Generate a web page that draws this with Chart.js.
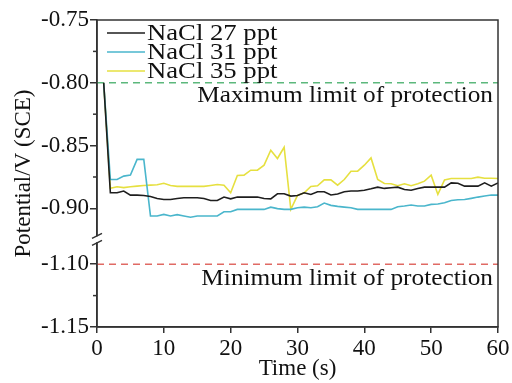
<!DOCTYPE html>
<html>
<head>
<meta charset="utf-8">
<script src="https://cdn.jsdelivr.net/npm/chart.js@4"></script>
<style>
  html, body { margin: 0; padding: 0; background: #fff; }
  #wrap { width: 512px; height: 383px; }
</style>
</head>
<body>
<div id="wrap"><canvas id="potChart"></canvas></div>
<script>
const FONT = "'Liberation Serif', 'Times New Roman', serif";

// time (s)
const times = [1, 2, 3, 4, 5, 6, 7, 8, 9, 10, 11, 12, 13, 14, 15, 16, 17, 18, 19, 20,
    21, 22, 23, 24, 25, 26, 27, 28, 29, 30, 31, 32, 33, 34, 35, 36, 37, 38, 39, 40,
    41, 42, 43, 44, 45, 46, 47, 48, 49, 50, 51, 52, 53, 54, 55, 56, 57, 58, 59, 60];

// potential (V vs SCE)
const nacl27 = [-0.800, -0.8876, -0.8876, -0.8862, -0.8894, -0.8894, -0.8897, -0.8905, -0.8921, -0.8929,
    -0.8929, -0.8921, -0.8915, -0.8915, -0.8915, -0.8921, -0.8937, -0.8937, -0.8910, -0.8924,
    -0.8910, -0.8910, -0.8910, -0.8910, -0.8921, -0.8924, -0.8884, -0.8884, -0.8902, -0.8897,
    -0.8876, -0.8889, -0.8868, -0.8868, -0.8893, -0.8886, -0.8868, -0.8862, -0.8862, -0.8855,
    -0.8844, -0.8831, -0.8841, -0.8836, -0.8831, -0.8849, -0.8855, -0.8841, -0.8831, -0.8831,
    -0.8831, -0.8831, -0.8797, -0.8800, -0.8823, -0.8823, -0.8823, -0.8797, -0.8823, -0.8797];
const nacl31 = [-0.800, -0.8770, -0.8770, -0.8743, -0.8735, -0.8610, -0.8610, -0.9060, -0.9060, -0.9048,
    -0.9060, -0.9050, -0.9060, -0.9070, -0.9060, -0.9060, -0.9060, -0.9060, -0.9027, -0.9027,
    -0.9008, -0.9008, -0.9008, -0.9008, -0.9008, -0.8990, -0.9002, -0.9008, -0.9008, -0.8995,
    -0.8990, -0.8995, -0.8987, -0.8958, -0.8976, -0.8984, -0.8990, -0.8995, -0.9008, -0.9008,
    -0.9008, -0.9008, -0.9008, -0.9008, -0.8987, -0.8981, -0.8973, -0.8981, -0.8981, -0.8968,
    -0.8965, -0.8955, -0.8937, -0.8931, -0.8929, -0.8920, -0.8910, -0.8902, -0.8894, -0.8894];
const nacl35 = [-0.800, -0.8840, -0.8828, -0.8835, -0.8828, -0.8823, -0.8818, -0.8815, -0.8812, -0.8800,
    -0.8818, -0.8825, -0.8825, -0.8825, -0.8825, -0.8825, -0.8818, -0.8810, -0.8815, -0.8876,
    -0.8738, -0.8735, -0.8696, -0.8696, -0.8656, -0.8537, -0.8603, -0.8513, -0.9008, -0.8897,
    -0.8876, -0.8825, -0.8820, -0.8773, -0.8773, -0.8815, -0.8770, -0.8704, -0.8704, -0.8656,
    -0.8598, -0.8770, -0.8802, -0.8804, -0.8820, -0.8804, -0.8820, -0.8804, -0.8783, -0.8736,
    -0.8889, -0.8773, -0.8762, -0.8762, -0.8762, -0.8762, -0.8751, -0.8760, -0.8760, -0.8762];

const seriesNames = ['NaCl 27 ppt', 'NaCl 31 ppt', 'NaCl 35 ppt'];
const seriesColors = ['#1e1e1e', '#4ab6cc', '#e6e040'];

// protection limits
const maxLimit = -0.80;
const minLimit = -1.10;
const limitLabels = ['Maximum limit of protection', 'Minimum limit of protection'];

// y axis ticks (broken axis between -0.90 and -1.10)
const yTicks = [-0.75, -0.80, -0.85, -0.90, -1.10, -1.15];
const yMinor = [-0.775, -0.825, -0.875, -1.125];
const xTicks = [0, 10, 20, 30, 40, 50, 60];

// squeeze the gap -0.90 .. -1.10 out of the axis
const BREAK_AT = -1.0;
const BREAK_SHIFT = 0.15556;
const brk = v => (v < BREAK_AT ? v + BREAK_SHIFT : v);

const pts = arr => arr.map((v, i) => ({ x: times[i], y: brk(v) }));

// text is a bit wider than plain Times in the original figure
function wideText(ctx, txt, x, y, sx) {
    ctx.save();
    ctx.translate(x, y);
    ctx.scale(sx, 1);
    ctx.fillText(txt, 0, 0);
    ctx.restore();
}

const chartDecor = {
    id: 'chartDecor',
    afterDatasetsDraw(chart) {
        const { ctx, chartArea: a, scales } = chart;
        const ys = scales.y;
        ctx.save();
        // frame
        ctx.strokeStyle = '#333';
        ctx.lineWidth = 1.5;
        ctx.strokeRect(a.left, a.top, a.right - a.left, a.bottom - a.top);

        // minor ticks
        yMinor.forEach(v => {
            const py = ys.getPixelForValue(brk(v));
            ctx.beginPath();
            ctx.moveTo(a.left - 4, py);
            ctx.lineTo(a.left, py);
            ctx.stroke();
        });

        // axis break
        const yb = (ys.getPixelForValue(-0.90) + ys.getPixelForValue(brk(-1.10))) / 2 + 3;
        ctx.fillStyle = '#fff';
        ctx.fillRect(a.left - 3, yb - 3, 6, 6);
        ctx.beginPath();
        ctx.moveTo(a.left - 5, yb - 1);
        ctx.lineTo(a.left + 5, yb - 6);
        ctx.moveTo(a.left - 5, yb + 6);
        ctx.lineTo(a.left + 5, yb + 1);
        ctx.stroke();

        // limit labels
        ctx.fillStyle = '#111';
        ctx.font = '23px ' + FONT;
        ctx.textAlign = 'right';
        ctx.textBaseline = 'alphabetic';
        wideText(ctx, limitLabels[0], a.right - 5, ys.getPixelForValue(brk(maxLimit)) + 19, 1.1);
        wideText(ctx, limitLabels[1], a.right - 5, ys.getPixelForValue(brk(minLimit)) + 21, 1.1);

        // legend
        ctx.textAlign = 'left';
        ctx.textBaseline = 'middle';
        ctx.font = '23px ' + FONT;
        seriesNames.forEach((name, i) => {
            const ly = a.top + 13 + i * 19;
            ctx.strokeStyle = seriesColors[i];
            ctx.lineWidth = 1.5;
            ctx.beginPath();
            ctx.moveTo(a.left + 10, ly);
            ctx.lineTo(a.left + 48, ly);
            ctx.stroke();
            ctx.fillStyle = '#111';
            wideText(ctx, name, a.left + 50, ly + 1, 1.16);
        });
        ctx.restore();
    }
};

new Chart(document.getElementById('potChart').getContext('2d'), {
    type: 'line',
    data: {
        datasets: [
            { label: seriesNames[0], data: pts(nacl27), borderColor: seriesColors[0], borderWidth: 1.6, pointRadius: 0, tension: 0 },
            { label: seriesNames[1], data: pts(nacl31), borderColor: seriesColors[1], borderWidth: 1.6, pointRadius: 0, tension: 0 },
            { label: seriesNames[2], data: pts(nacl35), borderColor: seriesColors[2], borderWidth: 1.6, pointRadius: 0, tension: 0 },
            { label: 'max', data: [{ x: 0, y: brk(maxLimit) }, { x: 60, y: brk(maxLimit) }], borderColor: '#5cb87c', borderWidth: 1.6, borderDash: [7, 5], pointRadius: 0 },
            { label: 'min', data: [{ x: 0, y: brk(minLimit) }, { x: 60, y: brk(minLimit) }], borderColor: '#e06a64', borderWidth: 1.6, borderDash: [7, 5], pointRadius: 0 }
        ]
    },
    options: {
        animation: false,
        responsive: true,
        maintainAspectRatio: false,
        layout: { padding: { top: 20, right: 14, left: 0, bottom: 0 } },
        plugins: { legend: { display: false }, tooltip: { enabled: false } },
        scales: {
            x: {
                type: 'linear',
                min: 0, max: 60,
                afterBuildTicks: s => { s.ticks = xTicks.map(v => ({ value: v })); },
                afterFit: s => { s.height = 56; },
                ticks: { font: { family: FONT, size: 23 }, color: '#111', padding: 2, maxRotation: 0 },
                grid: { drawOnChartArea: false, tickLength: 6, color: '#333', lineWidth: 1.5 },
                border: { color: '#333', width: 1.5 },
                title: { display: true, text: 'Time (s)', font: { family: FONT, size: 23 }, color: '#111', padding: 0 }
            },
            y: {
                type: 'linear',
                min: brk(-1.15), max: -0.75,
                afterBuildTicks: s => { s.ticks = yTicks.map(v => ({ value: brk(v) })); },
                afterFit: s => { s.width = 97; },
                ticks: {
                    font: { family: FONT, size: 23 }, color: '#111', padding: 1,
                    callback: (v, i) => yTicks[i].toFixed(2)
                },
                grid: { drawOnChartArea: false, tickLength: 7, color: '#333', lineWidth: 1.5 },
                border: { color: '#333', width: 1.5 },
                title: { display: true, text: 'Potential/V (SCE)', font: { family: FONT, size: 23 }, color: '#111', padding: { top: 10, bottom: 0 } }
            }
        }
    },
    plugins: [chartDecor]
});
</script>
</body>
</html>
